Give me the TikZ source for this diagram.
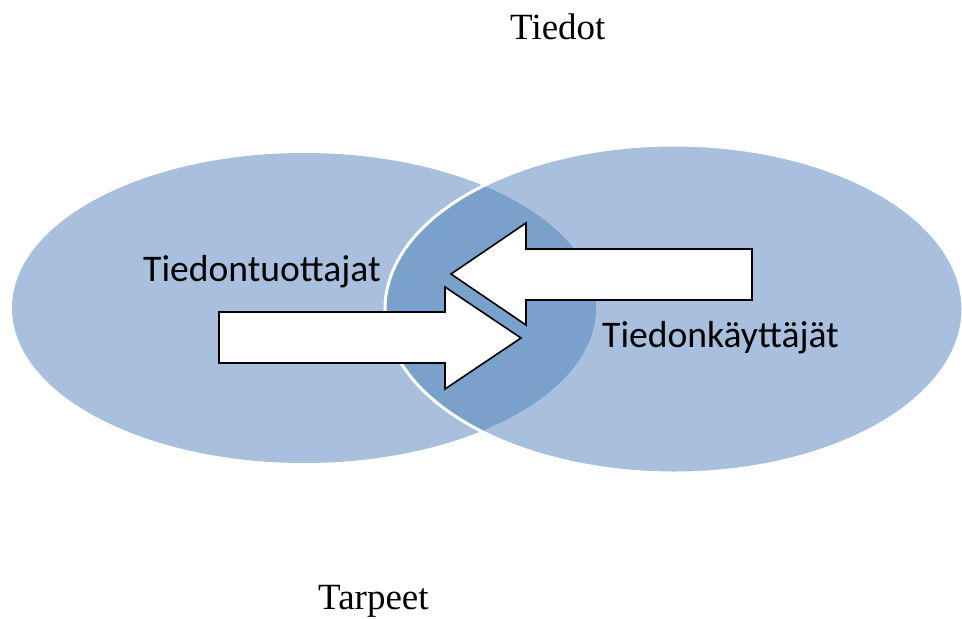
\documentclass[tikz,border=0pt]{standalone}
\usepackage{fontspec}
\setmainfont{Liberation Serif}
\newfontfamily\labelfont{Carlito}
\definecolor{setlight}{HTML}{A8C0DE}
\definecolor{setdark}{HTML}{7AA0CC}
\begin{document}
\begin{tikzpicture}[x=1pt,y=-1pt,
  setlabel/.style={font=\labelfont\fontsize{37.6}{42}\selectfont, inner sep=0pt, anchor=base west},
  axislabel/.style={font=\fontsize{37}{42}\selectfont, inner sep=0pt, anchor=base west},
  flowarrow/.style={draw=black, fill=white, line width=1.6pt, line join=miter}]
\useasboundingbox (0,0) rectangle (962,619);
% the two sets
\fill[setlight] (304,308) ellipse [x radius=292, y radius=155];
\fill[setlight] (674,309) ellipse [x radius=289, y radius=164];
\begin{scope}
  \clip (304,308) ellipse [x radius=292, y radius=155];
  \fill[setdark] (674,309) ellipse [x radius=289, y radius=164];
\end{scope}
\draw[white, line width=3pt] (674,309) ellipse [x radius=289, y radius=164];
% block arrows between the sets
\draw[flowarrow] (752,249) -- (526,249) -- (526,223) -- (451,274) -- (526,325) -- (526,300) -- (752,300) -- cycle;
\draw[flowarrow] (219,312) -- (445,312) -- (445,287) -- (521,338) -- (445,389) -- (445,363) -- (219,363) -- cycle;
% labels
\node[setlabel] (producers) at (143,281) {Tiedontuottajat};
\node[setlabel] (users) at (602,347) {Tiedonkäyttäjät};
\node[axislabel] (info) at (510,39) {Tiedot};
\node[axislabel] (needs) at (318,609) {Tarpeet};
\end{tikzpicture}
\end{document}
